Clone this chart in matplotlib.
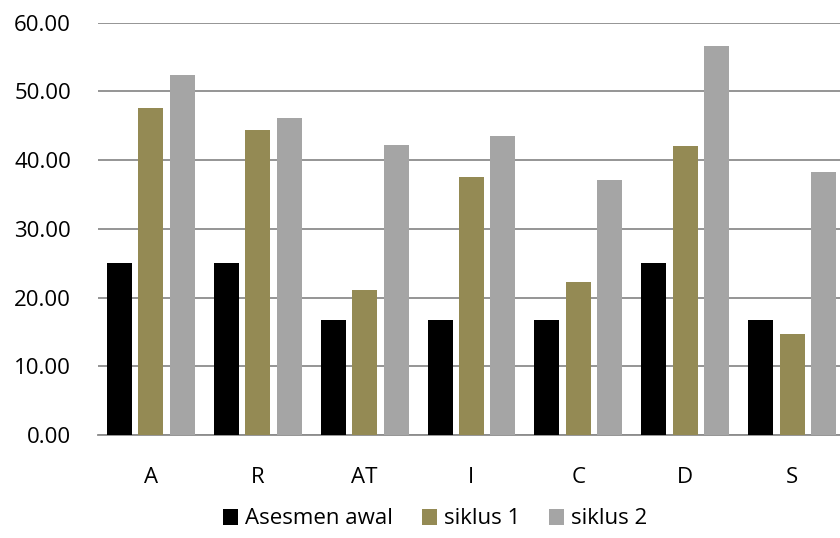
import matplotlib.pyplot as plt
import numpy as np

plt.rcParams['font.family'] = ['Open Sans', 'DejaVu Sans']

categories = ["A", "R", "AT", "I", "C", "D", "S"]
asesmen_awal = [25.0, 25.0, 16.67, 16.67, 16.67, 25.0, 16.67]
siklus_1 = [47.62, 44.44, 21.05, 37.5, 22.22, 42.11, 14.71]
siklus_2 = [52.38, 46.15, 42.22, 43.48, 37.14, 56.67, 38.24]
series_names = ["Asesmen awal", "siklus 1", "siklus 2"]
colors = ["#000000", "#948A54", "#A5A5A5"]

fig = plt.figure(figsize=(8.4, 5.38), dpi=100)
ax = fig.add_axes([97.5 / 840, 103 / 538, 748 / 840, 412.3 / 538])

x = np.arange(len(categories))
w = 0.234
step = 0.294
for i, (vals, name, c) in enumerate(zip([asesmen_awal, siklus_1, siklus_2], series_names, colors)):
    ax.bar(x + (i - 1) * step, vals, width=w, color=c, label=name, zorder=3)

ax.set_xlim(-0.5, len(categories) - 0.5)
ax.set_ylim(0, 60)
ax.set_yticks(np.arange(0, 61, 10))
ax.set_yticklabels([f"{v:.2f}" for v in np.arange(0, 61, 10)], fontsize=16)
ax.set_xticks(x)
ax.set_xticklabels(categories, fontsize=16)
ax.yaxis.grid(True, color="#8C8C8C", linewidth=1.3, zorder=0)
for s in ["top", "right", "left"]:
    ax.spines[s].set_visible(False)
ax.spines["bottom"].set_color("#8C8C8C")
ax.spines["bottom"].set_linewidth(1.3)
ax.tick_params(axis="both", length=0, colors="#000000")
ax.tick_params(axis="y", pad=19)
ax.tick_params(axis="x", pad=23)

fig.legend(loc="center", bbox_to_anchor=(435 / 840, 1 - 519 / 538), ncol=3, frameon=False,
           fontsize=16, handlelength=0.7, handleheight=0.7, handletextpad=0.3, columnspacing=1.3)

fig.savefig("out.png", dpi=100)
